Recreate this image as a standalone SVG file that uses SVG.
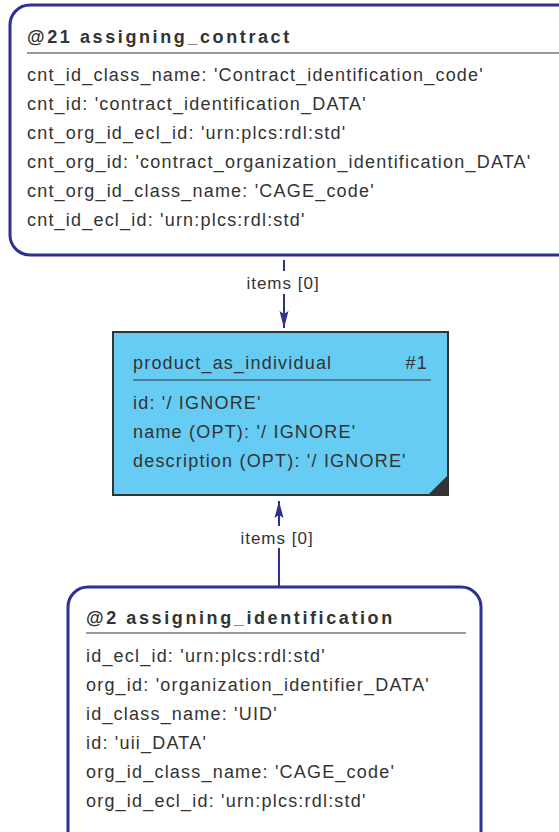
<svg xmlns="http://www.w3.org/2000/svg" width="559" height="832" viewBox="0 0 559 832">
<style>
.t{font-family:"Liberation Sans",Arial,sans-serif;font-size:18px;fill:#333;letter-spacing:1.2px;}
.h{font-family:"Liberation Sans",Arial,sans-serif;font-size:18px;font-weight:bold;fill:#333;letter-spacing:2.6px;}
.sep{stroke:#333;stroke-width:1;}
.tpl{fill:#fff;stroke:#2E3192;stroke-width:3;}
.conn{stroke:#2E3192;stroke-width:2;fill:none;}
.lbl{font-family:"Liberation Sans",Arial,sans-serif;font-size:17px;fill:#333;text-anchor:middle;letter-spacing:1px;}
</style>
<defs>
<marker id="arr" markerWidth="18" markerHeight="10" refX="17" refY="5" orient="auto-start-reverse" markerUnits="userSpaceOnUse" viewBox="0 0 18 10">
<path d="M0,0.5 L17,5 L0,9.5 L3,5 Z" fill="#2E3192"/>
</marker>
</defs>
<g id="connectors">
<line class="conn" x1="284" y1="260" x2="284" y2="328" marker-end="url(#arr)"/>
<rect x="238" y="271" width="90" height="23" fill="#fff"/>
<text class="lbl" x="283" y="289">items [0]</text>
<line class="conn" x1="279" y1="586" x2="279" y2="501" marker-end="url(#arr)"/>
<rect x="232" y="526" width="90" height="22" fill="#fff"/>
<text class="lbl" x="277" y="544">items [0]</text>
</g>
<g id="n21">
<rect class="tpl" x="10" y="5" width="570" height="250" rx="20"/>
<text class="h" x="27" y="43">@21 assigning_contract</text>
<line class="sep" x1="27" y1="53" x2="559" y2="53"/>
<text class="t" x="27" y="81">cnt_id_class_name: 'Contract_identification_code'</text>
<text class="t" x="27" y="110">cnt_id: 'contract_identification_DATA'</text>
<text class="t" x="27" y="139">cnt_org_id_ecl_id: 'urn:plcs:rdl:std'</text>
<text class="t" x="27" y="168">cnt_org_id: 'contract_organization_identification_DATA'</text>
<text class="t" x="27" y="197">cnt_org_id_class_name: 'CAGE_code'</text>
<text class="t" x="27" y="226">cnt_id_ecl_id: 'urn:plcs:rdl:std'</text>
</g>
<g id="n1">
<rect x="113" y="332" width="335" height="163" fill="#66CCF3" stroke="#333" stroke-width="2"/>
<path d="M448,475 L448,495 L428,495 Z" fill="#333"/>
<text class="t" x="133" y="369">product_as_individual</text>
<text class="t" x="428" y="369" text-anchor="end">#1</text>
<line class="sep" x1="133" y1="380" x2="431" y2="380"/>
<text class="t" x="133" y="409">id: '/ IGNORE'</text>
<text class="t" x="133" y="438">name (OPT): '/ IGNORE'</text>
<text class="t" x="133" y="467">description (OPT): '/ IGNORE'</text>
</g>
<g id="n2">
<rect class="tpl" x="68" y="587" width="413" height="270" rx="20"/>
<text class="h" x="86" y="624">@2 assigning_identification</text>
<line class="sep" x1="86" y1="633" x2="466" y2="633"/>
<text class="t" x="86" y="662">id_ecl_id: 'urn:plcs:rdl:std'</text>
<text class="t" x="86" y="691">org_id: 'organization_identifier_DATA'</text>
<text class="t" x="86" y="720">id_class_name: 'UID'</text>
<text class="t" x="86" y="749">id: 'uii_DATA'</text>
<text class="t" x="86" y="778">org_id_class_name: 'CAGE_code'</text>
<text class="t" x="86" y="807">org_id_ecl_id: 'urn:plcs:rdl:std'</text>
</g>
</svg>
